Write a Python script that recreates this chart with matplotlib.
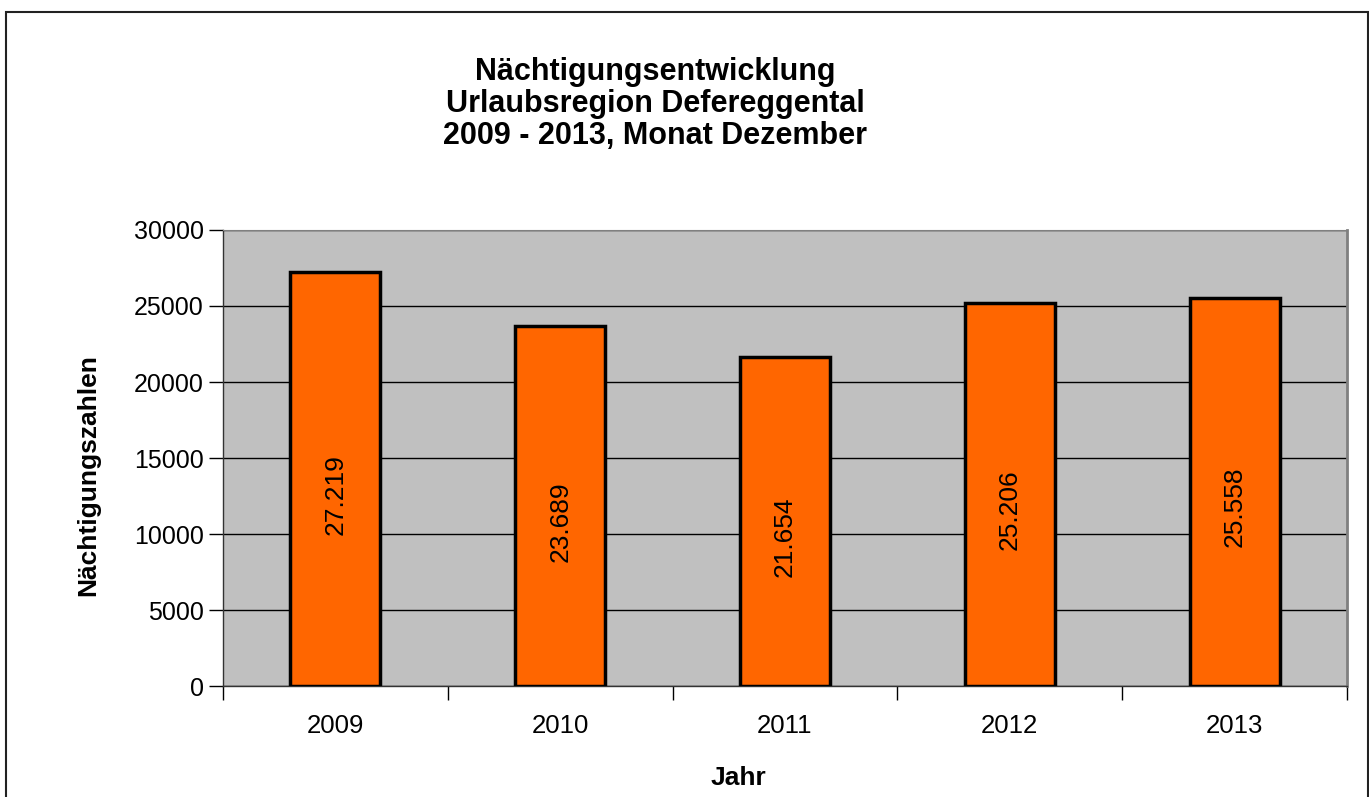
import matplotlib
matplotlib.use("Agg")
import matplotlib.pyplot as plt
from matplotlib.patches import Rectangle

plt.rcParams['font.family'] = ['Liberation Sans', 'DejaVu Sans']

# data
jahre = ['2009', '2010', '2011', '2012', '2013']
naechtigungen = [27219, 23689, 21654, 25206, 25558]
labels = ['27.219', '23.689', '21.654', '25.206', '25.558']
y_ticks = [0, 5000, 10000, 15000, 20000, 25000, 30000]

W, H = 1369, 797
fig = plt.figure(figsize=(W / 100, H / 100), dpi=100)
ax = fig.add_axes([223 / W, 1 - 686 / H, (1347 - 223) / W, (686 - 230) / H])

# figure border (bottom edge is outside the picture)
fig.patches.append(Rectangle((6 / W, -0.05), (1368 - 6) / W, 1.05 - 12 / H,
                             transform=fig.transFigure, fill=False,
                             edgecolor='#222222', linewidth=1.5))

x = list(range(len(jahre)))
ax.set_facecolor('#c0c0c0')
ax.bar(x, naechtigungen, width=0.4, color='#ff6600', edgecolor='black',
       linewidth=2.5, zorder=3)
for xi, v, lab in zip(x, naechtigungen, labels):
    ax.annotate(lab, (xi, v / 2), xytext=(0, -11), textcoords='offset points',
                rotation=90, ha='center', va='center', fontsize=19, zorder=4)

ax.set_xlim(-0.5, len(jahre) - 0.5)
ax.set_ylim(0, 30000)
ax.set_yticks(y_ticks)
ax.set_yticklabels([str(t) for t in y_ticks], fontsize=18)
ax.yaxis.grid(True, color='black', linewidth=1, zorder=0)
ax.set_axisbelow(True)
ax.tick_params(axis='y', length=10, width=1, pad=4)

ax.set_xticks([i - 0.5 for i in range(len(jahre) + 1)])
ax.set_xticklabels([])
ax.set_xticks(x, minor=True)
ax.set_xticklabels(jahre, minor=True, fontsize=18.5)
ax.tick_params(axis='x', which='major', length=10, width=1)
ax.tick_params(axis='x', which='minor', length=0, pad=20)

for s in ['left', 'bottom']:
    ax.spines[s].set_color('#333333')
    ax.spines[s].set_linewidth(1)
ax.spines['top'].set_color('#808080')
ax.spines['right'].set_color('#808080')
ax.spines['right'].set_linewidth(2)

fig.text(738 / W, 1 - 778 / H, 'Jahr', ha='center', va='center',
         fontsize=19, fontweight='bold')
fig.text(88 / W, 1 - 475 / H, 'Nächtigungszahlen', ha='center', va='center',
         rotation=90, fontsize=19, fontweight='bold')

fig.text(655 / W, 1 - 104 / H,
         'Nächtigungsentwicklung\nUrlaubsregion Defereggental\n2009 - 2013, Monat Dezember',
         ha='center', va='center', fontsize=22, fontweight='bold', linespacing=1.08)

fig.savefig('out.png', dpi=100, facecolor='white')
